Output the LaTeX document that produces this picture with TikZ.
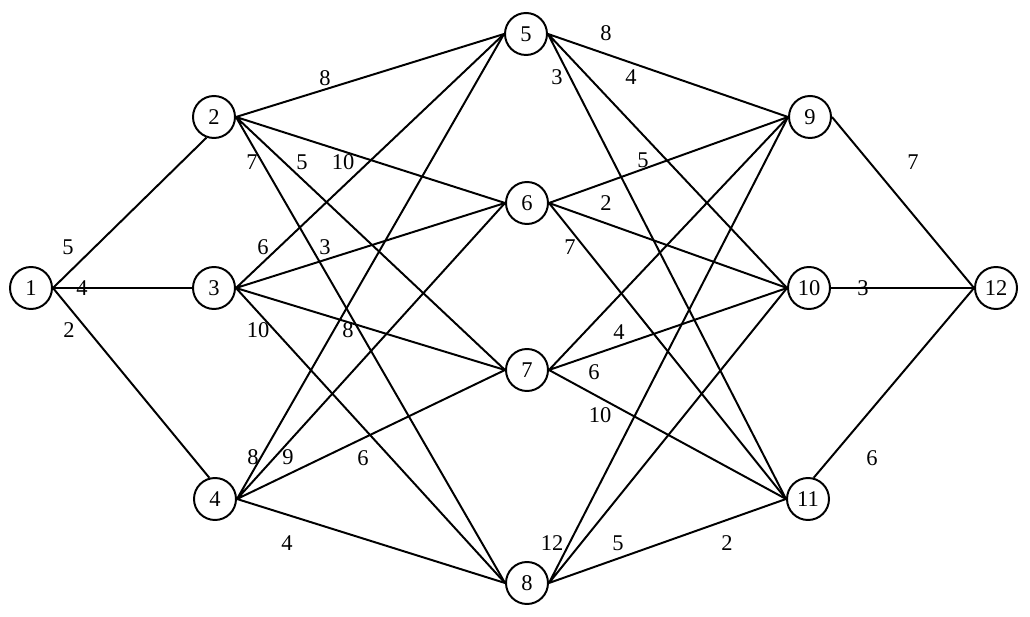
\documentclass[tikz,border=0pt]{standalone}
\usepackage{fontspec}
\setmainfont{Liberation Serif}

\begin{document}
\begin{tikzpicture}[scale=1.0,
    stage/.style={circle, draw, line width=1.4pt, minimum size=1.05cm, inner sep=0pt},
    route/.style={line width=1.4pt},
    cost/.style={inner sep=1pt},
    font=\fontsize{16}{19}\selectfont]
  \useasboundingbox (0,0) rectangle (25.75,15.425);

  % Stages
  \node[stage] (n1) at (0.775,8.225) {1};
  \node[stage] (n2) at (5.35,12.5) {2};
  \node[stage] (n3) at (5.35,8.225) {3};
  \node[stage] (n4) at (5.375,2.95) {4};
  \node[stage] (n5) at (13.15,14.575) {5};
  \node[stage] (n6) at (13.175,10.35) {6};
  \node[stage] (n7) at (13.175,6.175) {7};
  \node[stage] (n8) at (13.175,0.85) {8};
  \node[stage] (n9) at (20.25,12.5) {9};
  \node[stage] (n10) at (20.225,8.225) {10};
  \node[stage] (n11) at (20.2,2.95) {11};
  \node[stage] (n12) at (24.9,8.225) {12};

  % Routes
  \draw[route] (n1.east) -- (n2.-110) (n1.east) -- (n3.west) (n1.east) -- (n4.105);
  \draw[route] (n2.east) -- (n5.west) (n2.east) -- (n6.west)
               (n2.east) -- (n7.west) (n2.east) -- (n8.west);
  \draw[route] (n3.east) -- (n5.west) (n3.east) -- (n6.west)
               (n3.east) -- (n7.west) (n3.east) -- (n8.west);
  \draw[route] (n4.east) -- (n5.west) (n4.east) -- (n6.west)
               (n4.east) -- (n7.west) (n4.east) -- (n8.west);
  \draw[route] (n5.east) -- (n9.west) (n5.east) -- (n10.west) (n5.east) -- (n11.west);
  \draw[route] (n6.east) -- (n9.west) (n6.east) -- (n10.west) (n6.east) -- (n11.west);
  \draw[route] (n7.east) -- (n9.west) (n7.east) -- (n10.west) (n7.east) -- (n11.west);
  \draw[route] (n8.east) -- (n9.west) (n8.east) -- (n10.west) (n8.east) -- (n11.west);
  \draw[route] (n9.east) -- (n12.west) (n10.east) -- (n12.west) (n11.75) -- (n12.west);

  % Costs
  \node[cost] (c12) at (1.7,9.25) {5};
  \node[cost] (c13) at (2.05,8.225) {4};
  \node[cost] (c14) at (1.725,7.175) {2};
  \node[cost] (c25) at (8.125,13.475) {8};
  \node[cost] (c28) at (6.3,11.375) {7};
  \node[cost] (c27) at (7.55,11.375) {5};
  \node[cost] (c26) at (8.575,11.375) {10};
  \node[cost] (c35) at (6.575,9.25) {6};
  \node[cost] (c36) at (8.125,9.25) {3};
  \node[cost] (c38) at (6.45,7.175) {10};
  \node[cost] (c37) at (8.7,7.175) {8};
  \node[cost] (c45) at (6.325,4.0) {8};
  \node[cost] (c46) at (7.2,4.0) {9};
  \node[cost] (c47) at (9.075,3.975) {6};
  \node[cost] (c48) at (7.175,1.85) {4};
  \node[cost] (c59) at (15.15,14.6) {8};
  \node[cost] (c511) at (13.925,13.5) {3};
  \node[cost] (c510) at (15.775,13.5) {4};
  \node[cost] (c69) at (16.075,11.425) {5};
  \node[cost] (c610) at (15.15,10.35) {2};
  \node[cost] (c611) at (14.25,9.25) {7};
  \node[cost] (c710) at (15.475,7.125) {4};
  \node[cost] (c79) at (14.85,6.125) {6};
  \node[cost] (c711) at (15.0,5.05) {10};
  \node[cost] (c89) at (13.8,1.85) {12};
  \node[cost] (c810) at (15.45,1.85) {5};
  \node[cost] (c811) at (18.175,1.85) {2};
  \node[cost] (c912) at (22.825,11.375) {7};
  \node[cost] (c1012) at (21.575,8.225) {3};
  \node[cost] (c1112) at (21.8,3.975) {6};
\end{tikzpicture}
\end{document}
